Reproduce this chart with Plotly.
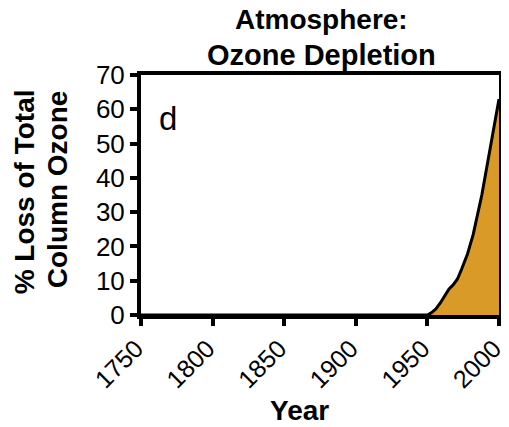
import plotly.graph_objects as go

# ozone loss
years = [1750, 1900, 1950, 1953, 1956, 1959, 1962, 1965, 1968, 1971, 1974, 1978,
         1982, 1985, 1988, 1991, 1994, 1997, 2000]
loss = [0, 0, 0, 0.7, 1.8, 3.5, 5.5, 7.5, 8.8, 10.5, 13.5, 17.8,
        23.5, 29, 35, 42, 49, 57, 63]
x_ticks = [1750, 1800, 1850, 1900, 1950, 2000]
y_ticks = [0, 10, 20, 30, 40, 50, 60, 70]

font = "Liberation Sans, Arial, sans-serif"

fig = go.Figure()
fig.add_trace(go.Scatter(
    x=years, y=loss, mode="lines", fill="tozeroy",
    fillcolor="#DA9A28", line=dict(color="black", width=3),
    showlegend=False,
))

# texts placed by hand so line spacing matches the reference
notes = [
    dict(text="<b>Atmosphere:</b>", x=0.503, y=1.232, font=dict(size=28)),
    dict(text="<b>Ozone Depletion</b>", x=0.503, y=1.085, font=dict(size=29)),
    dict(text="<b>% Loss of Total</b>", x=-0.327, y=0.515, textangle=-90, font=dict(size=28)),
    dict(text="<b>Column Ozone</b>", x=-0.234, y=0.525, textangle=-90, font=dict(size=28)),
    dict(text="<b>Year</b>", x=0.444, y=-0.396, font=dict(size=28)),
    dict(text="d", x=0.075, y=0.82, font=dict(size=33)),
]
for n in notes:
    n.update(xref="paper", yref="paper", xanchor="center", yanchor="middle", showarrow=False)

# page body adds an 8px margin, so the figure is 8px smaller each way
fig.update_layout(
    width=501, height=419,
    margin=dict(l=133, r=10, t=67, b=112),
    plot_bgcolor="white", paper_bgcolor="white",
    font=dict(family=font, color="black", size=26),
    annotations=notes,
)
fig.update_xaxes(
    range=[1750, 2000], tickvals=x_ticks, tickangle=-45, ticklabeloverflow="allow",
    ticklabelshift=-5, ticklabelstandoff=-2, tickfont=dict(size=25),
    showline=True, linecolor="black", linewidth=4, mirror=True,
    ticks="outside", ticklen=7, tickwidth=4, tickcolor="black",
    showgrid=False, zeroline=False, automargin=False,
)
fig.update_yaxes(
    range=[0, 70], tickvals=y_ticks,
    showline=True, linecolor="black", linewidth=4, mirror=True,
    ticks="outside", ticklen=7, tickwidth=4, tickcolor="black",
    showgrid=False, zeroline=False, automargin=False,
)

fig.write_html("out.html")
